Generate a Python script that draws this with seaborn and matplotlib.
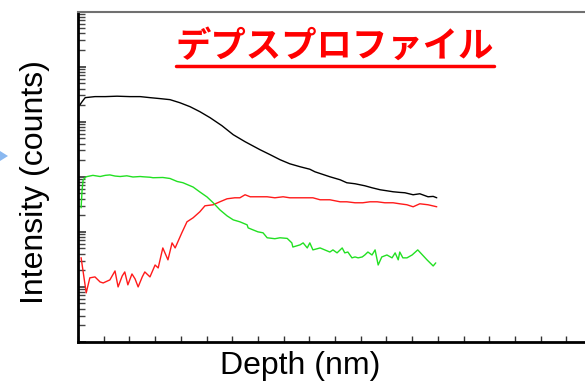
import matplotlib
matplotlib.use("Agg")
import matplotlib.pyplot as plt
from matplotlib.lines import Line2D
from matplotlib.patches import Polygon
from matplotlib.ticker import LogLocator, MultipleLocator, NullFormatter
import pandas as pd
import seaborn as sns

# Depth profile traces (depth in arbitrary units, intensity in counts)
black_depth = [0.4, 0.8, 1.4, 3.3, 5.3, 7.6, 10.1, 12.1, 14.0, 16.0, 17.9, 19.8,
               21.8, 23.7, 25.7, 28.0, 30.2, 32.5, 35.4, 37.4, 39.3, 41.2, 43.2,
               45.1, 46.1, 49.0, 51.0, 52.3, 53.9, 55.8, 57.2, 58.8, 60.1, 61.3,
               62.6, 63.6, 65.2, 66.5, 68.1, 69.1, 69.8]
black_counts = [20400, 23100, 27300, 28500, 28500, 29000, 28500, 28500, 27300,
                26200, 25100, 22100, 18700, 15200, 11800, 8450, 5800, 4330, 3100,
                2510, 2040, 1720, 1520, 1370, 1230, 1000, 881, 778, 746, 686, 631,
                580, 556, 534, 520, 512, 471, 491, 433, 440, 415]

green_depth = [0.6, 0.8, 1.0, 1.6, 2.9, 4.3, 5.3, 6.2, 7.2, 8.2, 9.5, 10.7, 12.1,
               12.6, 14.0, 14.6, 16.5, 17.9, 19.3, 20.4, 22.4, 23.7, 25.1, 26.3,
               27.6, 29.0, 30.2, 31.5, 32.9, 33.1, 34.0, 35.0, 36.0, 36.8, 38.3,
               39.3, 40.7, 41.6, 41.8, 43.2, 43.8, 44.6, 45.1, 45.7, 47.1, 49.0,
               49.6, 50.4, 51.4, 51.9, 52.5, 53.3, 53.9, 54.5, 55.3, 55.8, 56.4,
               57.2, 57.8, 58.4, 59.1, 60.1, 61.1, 61.7, 62.3, 62.6, 63.2, 64.0,
               65.0, 66.1, 67.9, 69.1, 69.6]
green_counts = [273, 580, 881, 1000, 1060, 1010, 1060, 1080, 1030, 1010, 1040, 990,
                1010, 1000, 980, 960, 970, 930, 820, 780, 650, 530, 430, 337, 251,
                195, 165, 152, 134, 118, 109, 100, 96, 78, 75, 78, 76, 63, 53, 58,
                63, 51, 63, 47, 51, 43, 47, 41.5, 51, 41.5, 43, 33.7, 35, 33.7, 35,
                38, 43, 38, 47, 25, 35, 38, 33.7, 41.5, 31, 43, 33.7, 33.7, 38, 47,
                31, 24, 27.3]

red_depth = [0.6, 1.6, 2.3, 3.3, 4.3, 4.9, 5.8, 6.2, 7.2, 7.8, 8.6, 9.1, 9.7, 10.5,
             11.1, 11.7, 12.5, 13.0, 14.0, 15.0, 15.6, 16.5, 17.5, 18.3, 18.9,
             20.2, 21.2, 22.4, 23.7, 24.7, 26.3, 27.6, 29.0, 30.5, 31.5, 32.5,
             33.5, 35.0, 36.8, 38.3, 39.9, 41.2, 43.2, 45.7, 47.1, 49.0, 51.0,
             52.3, 53.9, 55.4, 56.8, 58.2, 59.7, 61.3, 62.6, 64.0, 65.2, 66.5,
             68.1, 69.8]
red_counts = [34, 7.8, 14.6, 15.2, 12.3, 11.8, 12.9, 13.4, 19.5, 10, 15.8, 18.7,
              10.9, 17.2, 14, 10, 15.2, 18.7, 15.2, 25, 22.1, 51, 31, 63, 51, 96,
              152, 180, 231, 297, 310, 351, 398, 415, 415, 471, 433, 433, 433, 415,
              433, 415, 415, 415, 382, 382, 351, 351, 337, 337, 351, 351, 337, 337,
              323, 310, 285, 323, 310, 285]

title_text = "デプスプロファイル"
x_label = "Depth (nm)"
y_label = "Intensity (counts)"

sns.set_style("white")
plt.rcParams["font.family"] = ["Liberation Sans", "DejaVu Sans"]

W, H = 585, 390
fig = plt.figure(figsize=(W / 100, H / 100), dpi=100)
ax = fig.add_axes([78 / W, 1 - 342 / H, 514 / W, (342 - 11.5) / H])

traces = [
    (black_depth, black_counts, "#000000"),
    (red_depth, red_counts, "#ff1a1a"),
    (green_depth, green_counts, "#22e022"),
]
for depth, counts, color in traces:
    df = pd.DataFrame({"depth": depth, "counts": counts})
    sns.lineplot(data=df, x="depth", y="counts", ax=ax, color=color,
                 linewidth=1.0, sort=False, estimator=None)

ax.set_yscale("log")
ax.set_ylim(1, 1e6)
ax.set_xlim(0, 100)

ax.yaxis.set_major_locator(LogLocator(base=10, numticks=10))
ax.yaxis.set_minor_locator(LogLocator(base=10, subs=range(2, 10), numticks=10))
ax.yaxis.set_major_formatter(NullFormatter())
ax.yaxis.set_minor_formatter(NullFormatter())
ax.xaxis.set_major_locator(MultipleLocator(5))
ax.xaxis.set_major_formatter(NullFormatter())

ax.tick_params(axis="y", which="major", direction="in", length=6, width=1.2,
               color="#333333", left=True)
ax.tick_params(axis="y", which="minor", direction="in", length=5, width=1.0,
               color="#444444", left=True)
ax.tick_params(axis="x", which="major", direction="in", length=4, width=1.0,
               color="#333333", bottom=True)

for side in ["left", "bottom"]:
    ax.spines[side].set_color("black")
    ax.spines[side].set_linewidth(2.0)
ax.spines["top"].set_color("#707070")
ax.spines["top"].set_linewidth(1.5)
ax.spines["right"].set_visible(False)

ax.set_xlabel("")
ax.set_ylabel("")
fig.text(300 / W, 1 - 366 / H, x_label, fontsize=23, ha="center", va="center",
         color="black")
fig.text(35 / W, 1 - 182 / H, y_label, fontsize=23, rotation=90, ha="center",
         va="center", color="black")

title = fig.text(335 / W, 1 - 46 / H, title_text, fontsize=25.5, fontweight="bold",
                 color="#ff0000", ha="center", va="center",
                 family=["Noto Sans CJK JP", "DejaVu Sans"])

# underline beneath the title
fig.canvas.draw()
bb = title.get_window_extent(renderer=fig.canvas.get_renderer())
x0, x1 = bb.x0 / W, bb.x1 / W
yu = 1 - 65.5 / H
fig.add_artist(Line2D([x0, x1], [yu, yu], transform=fig.transFigure,
                      color="#ff0000", linewidth=2.5))

# arrowhead at the left margin
tri = [(0, 1 - 151 / H), (8 / W, 1 - 156 / H), (0, 1 - 161 / H)]
fig.add_artist(Polygon(tri, closed=True, transform=fig.transFigure,
                       facecolor="#8ab8f0", edgecolor="none"))

fig.savefig("out.png", dpi=100)
